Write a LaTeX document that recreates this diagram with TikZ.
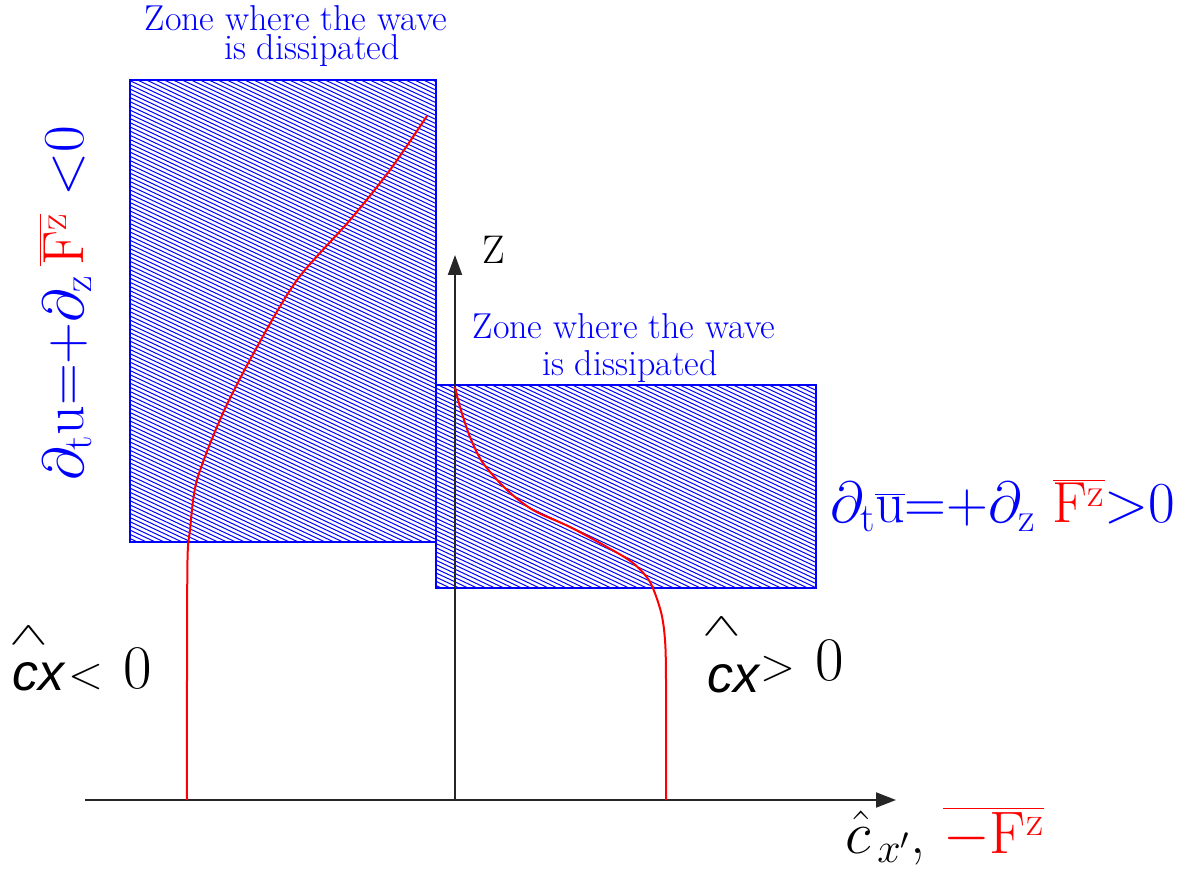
\RequirePackage{fix-cm}
\documentclass[tikz,border=0pt]{standalone}
\usepackage{amsmath}
\usepackage{graphicx}
\usepackage{fontspec}
\newfontfamily\lsans{Liberation Sans}
\usetikzlibrary{arrows.meta}
\begin{document}
\begin{tikzpicture}[x=1pt,y=-1pt,
  hatchbox/.style={draw=blue,line width=1.5pt,inner sep=0pt,outer sep=0pt},
  hatchline/.style={blue,line width=1pt},
  zonelbl/.style={text=blue,align=center,inner sep=0pt},
  mathlbl/.style={font=\fontsize{58}{60}\selectfont,inner sep=0pt},
  curve/.style={red,line width=2pt},
  axis/.style={black!85,line width=2pt},
  hatsym/.style={font=\fontsize{58}{58}\selectfont,inner sep=0pt},
  cxlbl/.style={font=\fontsize{52}{52}\selectfont\lsans\itshape,inner sep=0pt},
  rellbl/.style={font=\fontsize{62}{62}\selectfont,inner sep=0pt}
]
\useasboundingbox (0,0) rectangle (1187,882);

% hatching of the two zones
\begin{scope}
  \clip (130,80) rectangle (436,542);
  \foreach \c in {-140,-135.8,...,500}
    \draw[hatchline] (120,{\c+0.47*120}) -- (450,{\c+0.47*450});
\end{scope}
\begin{scope}
  \clip (436,385) rectangle (816,588);
  \foreach \c in {-10,-5.8,...,400}
    \draw[hatchline] (420,{\c+0.47*420}) -- (830,{\c+0.47*830});
\end{scope}
\node[hatchbox,minimum width=306pt,minimum height=462pt] (boxL) at (283,311) {};
\node[hatchbox,minimum width=380pt,minimum height=203pt] (boxR) at (626,486.5) {};

% axes
\coordinate (O) at (455,800);
\coordinate (ztip) at (455,255);
\coordinate (xstart) at (85,800);
\coordinate (xtip) at (896,800);
\draw[axis,-{Triangle[length=20pt,width=14pt]}] (O) -- (ztip);
\draw[axis,-{Triangle[length=20pt,width=15pt]}] (xstart) -- (xtip);

% red profiles
\draw[curve] plot[smooth,tension=0.5] coordinates {(187,800) (187,680) (187.5,560) (190,530) (197,480) (223,413) (257,347) (297,280) (350,220) (390,170) (427,116)};
\draw[curve] plot[smooth,tension=0.5] coordinates {(666,800) (666,680) (665,640) (661,612) (650,582) (633,563) (607,547) (570,527) (533,510) (507,490) (483,463) (470,437) (460,407) (455,387)};

% labels
\node[zonelbl,font=\fontsize{36}{29}\selectfont,anchor=south] (zA) at (296,67) {Zone where the wave\\\hspace*{32pt}is dissipated};
\node[zonelbl,font=\fontsize{36}{37}\selectfont,anchor=south] (zB) at (624,383) {Zone where the wave\\\hspace*{12pt}is dissipated};
\node[font=\fontsize{40}{44}\selectfont,inner sep=0pt,anchor=base] (zlbl) at (494,264) {Z};

\node[mathlbl,rotate=90,anchor=base] (leftlbl) at (83,303)
  {$\color{blue}\partial_{\mathrm{t}}\mathrm{u}{=}{+}\partial_{\mathrm{z}}\,\color{red}\overline{\mathrm{F}^{\mathrm{z}}}\ \color{blue}{<}0$};
\node[mathlbl,anchor=base west] (rightlbl) at (830,523)
  {$\color{blue}\partial_{\mathrm{t}}\overline{\mathrm{u}}{=}{+}\partial_{\mathrm{z}}\ \color{red}\overline{\mathrm{F}^{\mathrm{z}}}\color{blue}{>}0$};

\node[hatsym] (hatneg) at (29,636) {\scalebox{1}[0.55]{$\wedge$}};
\node[cxlbl,anchor=base west] (cxneg) at (12,690) {cx};
\node[rellbl,anchor=base west] (relneg) at (68,688) {{\fontsize{46}{46}\selectfont$<$}\,\,0};

\node[hatsym] (hatpos) at (722,627) {\scalebox{1}[0.55]{$\wedge$}};
\node[cxlbl,anchor=base west] (cxpos) at (707,692) {cx};
\node[rellbl,anchor=base west] (relpos) at (760,680) {{\fontsize{46}{46}\selectfont$>$}\,\,0};

\node[font=\fontsize{60}{62}\selectfont,inner sep=0pt,anchor=base west] (xlbl) at (845,853)
  {$\hat{c}_{\,x'}$,\ {\color{red}$\overline{-\mathrm{F}^{\mathrm{z}}}$}};
\end{tikzpicture}
\end{document}
